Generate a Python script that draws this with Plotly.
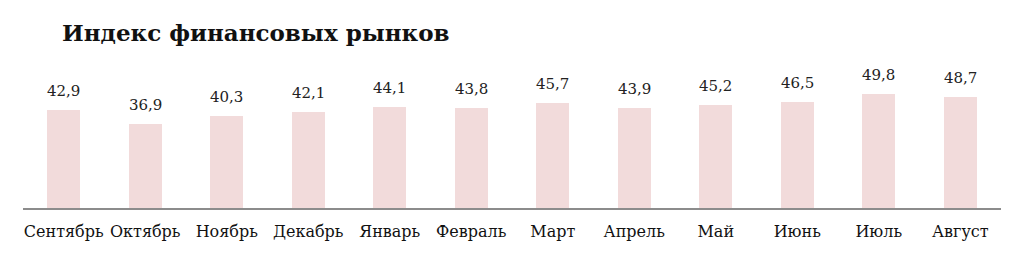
import plotly.graph_objects as go

months = ["Сентябрь", "Октябрь", "Ноябрь", "Декабрь", "Январь", "Февраль",
          "Март", "Апрель", "Май", "Июнь", "Июль", "Август"]
values = [42.9, 36.9, 40.3, 42.1, 44.1, 43.8, 45.7, 43.9, 45.2, 46.5, 49.8, 48.7]
labels = [f"{v:.1f}".replace(".", ",") for v in values]

SERIF = "DejaVu Serif, Liberation Serif, serif"

fig = go.Figure()
fig.add_trace(go.Bar(
    x=months, y=values,
    marker=dict(color="#f2dbdb", line=dict(width=0)),
    width=0.405,
    hoverinfo="skip",
))

for m, v, t in zip(months, values, labels):
    fig.add_annotation(x=m, y=v, text=t, showarrow=False, yanchor="bottom",
                       yshift=8, font=dict(family=SERIF, size=15, color="#222222"))

fig.update_layout(
    width=1024, height=254,
    margin=dict(l=23, r=23, t=70, b=46),
    paper_bgcolor="white", plot_bgcolor="white",
    showlegend=False,
    title=dict(text="<b>Индекс финансовых рынков</b>", x=62/1024, xanchor="left",
               xref="container", y=1 - 33/254, yanchor="middle", yref="container",
               font=dict(family=SERIF, size=23, color="#111111")),
    xaxis=dict(showline=True, linecolor="#8c8c8c", linewidth=2, ticks="",
               tickfont=dict(family=SERIF, size=16, color="#111111"),
               ticklabelstandoff=8,
               showgrid=False, zeroline=False),
    yaxis=dict(range=[0, 60.3], visible=False, showgrid=False, zeroline=False),
    bargap=0,
)

fig.write_html("out.html")
